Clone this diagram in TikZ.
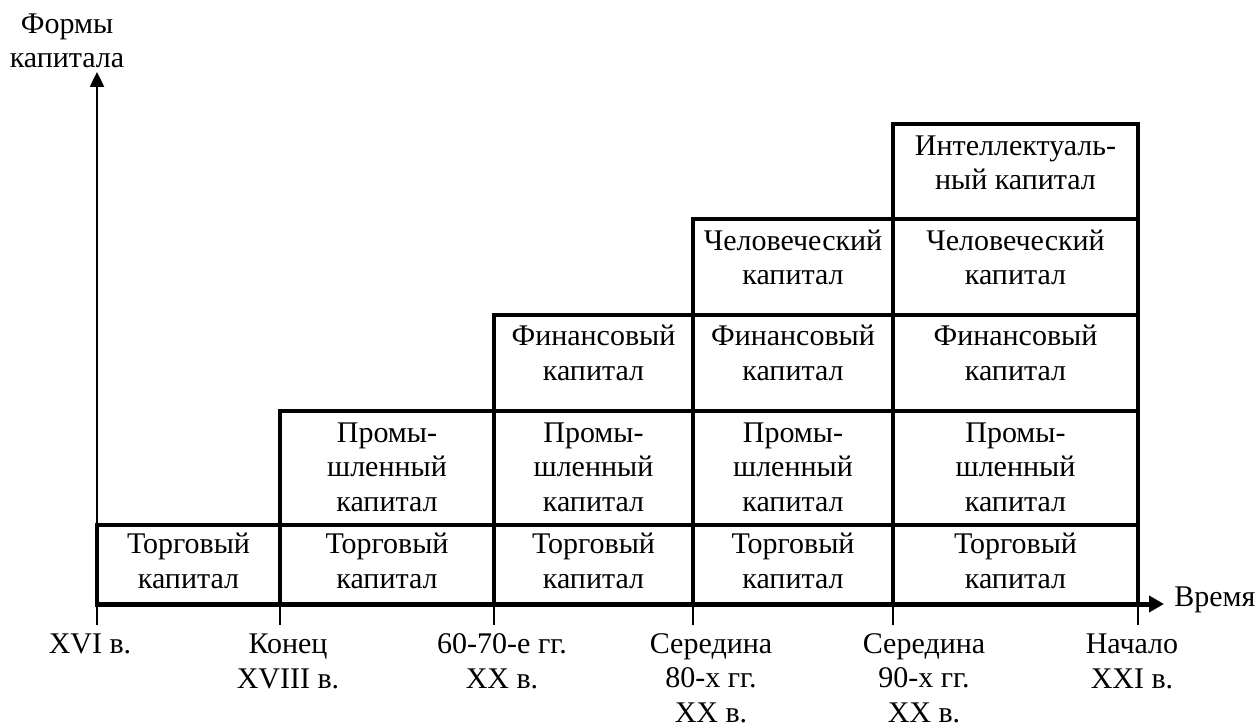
\documentclass[tikz,border=0pt]{standalone}
\usepackage{fontspec}
\setmainfont{Liberation Serif}
\usetikzlibrary{arrows.meta,positioning}
\tikzset{
	cellbox/.style={draw, line width=2pt},
	celltext/.style={
		anchor=base, align=center, inner sep=0pt,
		font=\fontsize{15}{17.25}\selectfont
	},
	timetick/.style={line width=0.75pt},
	y_axis/.style={line width=1.25pt, -{Triangle[length=7.5pt,width=7pt]}},
	x_axis/.style={line width=2.5pt, -{Triangle[length=7.5pt,width=8pt]}}
}
\begin{document}
\begin{tikzpicture}[x=0.5pt,y=-0.5pt]
	\useasboundingbox (0,0) rectangle (1258,727);
	% cells, column by column
	\draw[cellbox] (97,525) rectangle (280,605);
	\draw[cellbox] (280,525) rectangle (494,605);
	\draw[cellbox] (280,411) rectangle (494,525);
	\draw[cellbox] (494,525) rectangle (693,605);
	\draw[cellbox] (494,411) rectangle (693,525);
	\draw[cellbox] (494,315) rectangle (693,411);
	\draw[cellbox] (693,525) rectangle (893,605);
	\draw[cellbox] (693,411) rectangle (893,525);
	\draw[cellbox] (693,315) rectangle (893,411);
	\draw[cellbox] (693,219) rectangle (893,315);
	\draw[cellbox] (893,525) rectangle (1138,605);
	\draw[cellbox] (893,411) rectangle (1138,525);
	\draw[cellbox] (893,315) rectangle (1138,411);
	\draw[cellbox] (893,219) rectangle (1138,315);
	\draw[cellbox] (893,124) rectangle (1138,219);
	% texts (anchored at the baseline of their last line)
	\node[celltext] (trade1) at (188.5,588) {Торговый\\капитал};
	\node[celltext] (trade2) at (387,588) {Торговый\\капитал};
	\node[celltext] (trade3) at (593.5,588) {Торговый\\капитал};
	\node[celltext] (trade4) at (793,588) {Торговый\\капитал};
	\node[celltext] (trade5) at (1015.5,588) {Торговый\\капитал};
	\node[celltext] (ind2) at (387,511) {Промы-\\шленный\\капитал};
	\node[celltext] (ind3) at (593.5,511) {Промы-\\шленный\\капитал};
	\node[celltext] (ind4) at (793,511) {Промы-\\шленный\\капитал};
	\node[celltext] (ind5) at (1015.5,511) {Промы-\\шленный\\капитал};
	\node[celltext] (fin3) at (593.5,380) {Финансовый\\капитал};
	\node[celltext] (fin4) at (793,380) {Финансовый\\капитал};
	\node[celltext] (fin5) at (1015.5,380) {Финансовый\\капитал};
	\node[celltext] (hum4) at (793,285) {Человеческий\\капитал};
	\node[celltext] (hum5) at (1015.5,285) {Человеческий\\капитал};
	\node[celltext] (int5) at (1015.5,190) {Интеллектуаль-\\ный капитал};
	% axes
	\coordinate (origin) at (97,604);
	\coordinate (ytip) at (97,72);
	\coordinate (xtip) at (1164,604);
	\draw[y_axis] (origin) -- (ytip);
	\draw[x_axis] (origin) -- (xtip);
	\node[celltext] (yname) at (67,68) {Формы\\капитала};
	\node[celltext, anchor=base west] (xname) at (1174,606) {Время};
	% ticks
	\foreach \t/\x in {t1/97,t2/280,t3/494,t4/693,t5/893,t6/1138}{
		\coordinate (\t) at (\x,625);
		\draw[timetick] (\x,605) -- (\t);
	}
	\node[celltext] (l1) at (90,653) {XVI в.};
	\node[celltext] (l2) at (288,688) {Конец\\XVIII в.};
	\node[celltext] (l3) at (502,688) {60-70-е гг.\\XX в.};
	\node[celltext] (l4) at (711,722) {Середина\\80-х гг.\\XX в.};
	\node[celltext] (l5) at (924,722) {Середина\\90-х гг.\\XX в.};
	\node[celltext] (l6) at (1132,688) {Начало\\XXI в.};
\end{tikzpicture}
\end{document}
